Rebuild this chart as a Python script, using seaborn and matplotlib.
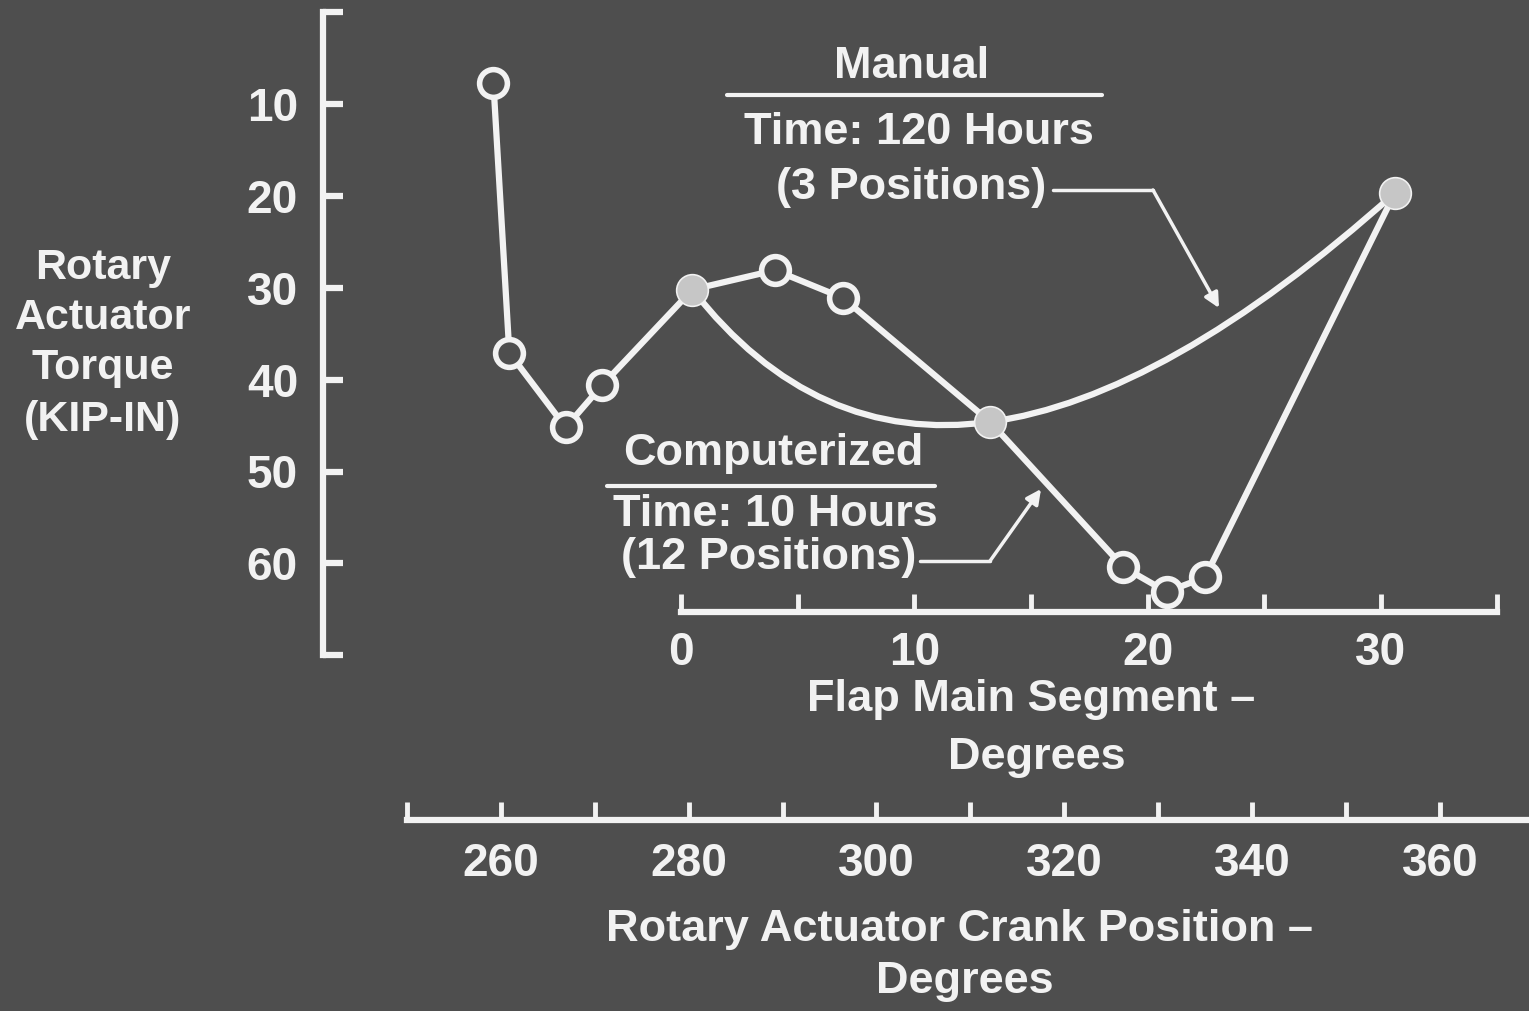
import matplotlib
matplotlib.use("Agg")
import matplotlib.pyplot as plt
from matplotlib.path import Path
from matplotlib.patches import PathPatch
import numpy as np
import seaborn as sns

# ---- data -------------------------------------------------------------
# Computerized search: 12 crank positions (deg) and actuator torque (kip-in)
computerized_crank = [259.2, 260.9, 266.9, 270.8, 280.4, 289.2, 296.4,
                      312.1, 326.3, 330.9, 335.0, 355.2]
computerized_torque = [7.7, 37.1, 45.2, 40.6, 30.2, 28.1, 31.1,
                       44.6, 60.4, 63.1, 61.5, 19.7]

# Manual search: 3 crank positions
manual_crank = [280.4, 312.1, 355.2]
manual_torque = [30.2, 44.6, 19.7]

# axis ticks
torque_ticks = [0, 10, 20, 30, 40, 50, 60, 70]
torque_labels = ["", "10", "20", "30", "40", "50", "60", ""]
crank_ticks = [250, 260, 270, 280, 290, 300, 310, 320, 330, 340, 350, 360]
crank_labels = ["", "260", "", "280", "", "300", "", "320", "", "340", "", "360"]
flap_ticks = [0, 5, 10, 15, 20, 25, 30, 35]
flap_labels = ["0", "", "10", "", "20", "", "30", ""]

# crank position where the flap main segment sits at 0 deg, and the ratio
FLAP_ZERO_CRANK = 279.2
FLAP_PER_CRANK = 30.0 / 74.5

# ---- style ------------------------------------------------------------
BG = "#4e4e4e"
INK = "#f2f2f2"
MARK_FILL = "#c6c6c6"

sns.set_style("white")
plt.rcParams["font.family"] = ["Liberation Sans", "DejaVu Sans"]
plt.rcParams["font.weight"] = "bold"
plt.rcParams["text.color"] = INK

W, H = 1529, 1011
fig = plt.figure(figsize=(W / 100, H / 100), dpi=100)
fig.patch.set_facecolor(BG)


def fx(px):
    return px / W


def fy(py):
    return 1 - py / H


# main axes: left spine at x=323 px, bottom crank axis at y=820 px
ax_left, ax_bottom, ax_top = 323, 820, 12
ax = fig.add_axes([fx(ax_left), fy(ax_bottom), 1 - fx(ax_left),
                   fy(ax_top) - fy(ax_bottom)])
ax.set_facecolor("none")

# computerized curve with open circles
sns.lineplot(x=computerized_crank, y=computerized_torque, ax=ax,
             color=INK, linewidth=4.5, marker="o", markersize=20,
             markeredgewidth=4, markerfacecolor=BG, markeredgecolor=INK,
             zorder=3, clip_on=False)

# manual curve: smooth cubic spline through the three positions
# (central-difference tangents inside, parabolic end conditions)
pts = np.column_stack([manual_crank, manual_torque])
tangents = np.empty_like(pts)
tangents[1:-1] = (pts[2:] - pts[:-2]) / 2
tangents[0] = 2 * (pts[1] - pts[0]) - tangents[1]
tangents[-1] = 2 * (pts[-1] - pts[-2]) - tangents[-2]
verts = [tuple(pts[0])]
codes = [Path.MOVETO]
for i in range(len(pts) - 1):
    verts += [tuple(pts[i] + tangents[i] / 3),
              tuple(pts[i + 1] - tangents[i + 1] / 3),
              tuple(pts[i + 1])]
    codes += [Path.CURVE4] * 3
ax.add_patch(PathPatch(Path(verts, codes), facecolor="none", edgecolor=INK,
                       lw=4.5, zorder=2, clip_on=False))

# manual positions drawn as filled grey dots
sns.scatterplot(x=manual_crank, y=manual_torque, ax=ax, s=470,
                color=MARK_FILL, edgecolor=MARK_FILL, linewidth=0,
                zorder=6, clip_on=False)

# pixel-calibrated limits
px_per_crank = 9.39
px_per_torque = 9.19
ax.set_xlim(250 + (ax_left - 407) / px_per_crank, 250 + (W - 407) / px_per_crank)
ax.set_ylim((ax_bottom - ax_top) / px_per_torque, 0)

for side in ("top", "right"):
    ax.spines[side].set_visible(False)
for side in ("left", "bottom"):
    ax.spines[side].set_color(INK)
    ax.spines[side].set_linewidth(4.5)
ax.spines["left"].set_bounds(0, 70)
ax.spines["bottom"].set_bounds(250, ax.get_xlim()[1])

ax.set_yticks(torque_ticks, torque_labels)
ax.set_xticks(crank_ticks, crank_labels)
ax.tick_params(axis="y", left=True, direction="in", length=14.5, width=4.5,
               color=INK, labelcolor=INK, labelsize=33, pad=18)
ax.tick_params(axis="x", bottom=True, direction="in", length=13, width=3.5,
               color=INK, labelcolor=INK, labelsize=33, pad=16)
ax.set_xlabel("")
ax.set_ylabel("")


# flap main segment axis, sharing the crank scale
def crank_to_flap(c):
    return (c - FLAP_ZERO_CRANK) * FLAP_PER_CRANK


def flap_to_crank(f):
    return f / FLAP_PER_CRANK + FLAP_ZERO_CRANK


flap_y = 612
sec = ax.secondary_xaxis((ax_bottom - flap_y) / (ax_bottom - ax_top),
                         functions=(crank_to_flap, flap_to_crank))
sec.set_xticks(flap_ticks, flap_labels)
sec.spines["bottom"].set_bounds(0, 35)
sec.spines["bottom"].set_color(INK)
sec.spines["bottom"].set_linewidth(4.5)
sec.tick_params(axis="x", bottom=True, direction="in", length=13, width=3.5,
                color=INK, labelcolor=INK, labelsize=33, pad=14)

# ---- overlay for labels and callouts (pixel coordinates) --------------
ov = fig.add_axes([0, 0, 1, 1])
ov.set_xlim(0, W)
ov.set_ylim(H, 0)
ov.set_axis_off()
ov.set_facecolor("none")

txt = dict(color=INK, fontsize=32.5, fontweight="bold", ha="center", va="center")
title_txt = dict(txt, fontsize=32.5)
ylab_txt = dict(txt, fontsize=31)

# y-axis title
for label, y in zip(["Rotary", "Actuator", "Torque", "(KIP-IN)"],
                    [268, 318, 368, 420]):
    ov.text(103, y, label, **ylab_txt)

# axis titles
ov.text(1031, 700, "Flap Main Segment \u2013", **title_txt)
ov.text(1037, 757, "Degrees", **title_txt)
ov.text(960, 930, "Rotary Actuator Crank Position \u2013", **title_txt)
ov.text(965, 982, "Degrees", **title_txt)

# manual callout
ov.text(912, 67, "Manual", **txt)
ov.plot([727, 1102], [95, 95], color=INK, lw=3)
ov.text(919, 133, "Time: 120 Hours", **txt)
ov.text(911, 187, "(3 Positions)", **txt)
ov.plot([1053, 1153], [190, 190], color=INK, lw=2.5)
ov.annotate("", xy=(1219, 308), xytext=(1153, 190),
            arrowprops=dict(arrowstyle="-|>", color=INK, lw=2.5,
                            mutation_scale=22, shrinkA=0, shrinkB=0))

# computerized callout
ov.text(773, 453, "Computerized", **txt)
ov.plot([607, 935], [486, 486], color=INK, lw=3)
ov.text(775, 515, "Time: 10 Hours", **txt)
ov.text(769, 557, "(12 Positions)", **txt)
ov.plot([920, 990], [561, 561], color=INK, lw=2.5)
ov.annotate("", xy=(1041, 489), xytext=(990, 561),
            arrowprops=dict(arrowstyle="-|>", color=INK, lw=2.5,
                            mutation_scale=22, shrinkA=0, shrinkB=0))

fig.savefig("out.png", dpi=100, facecolor=BG)
